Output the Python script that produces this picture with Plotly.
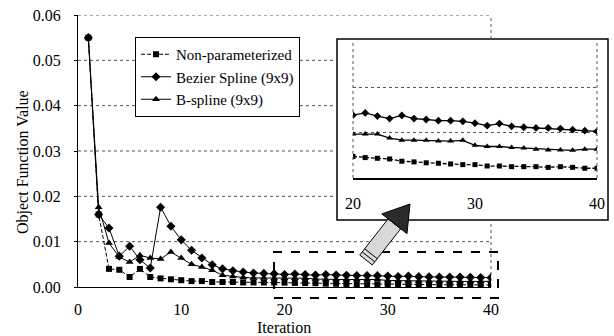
import numpy as np
import plotly.graph_objects as go

# ---------------- data ----------------
iterations = list(range(1, 41))
non_param = [0.055, 0.0160, 0.0040, 0.0038, 0.0022, 0.0040, 0.0022, 0.0019, 0.0017, 0.0015,
             0.0013, 0.0013, 0.0011, 0.0011, 0.0011, 0.0010, 0.0010, 0.0010, 0.0010, 0.00095,
             0.00090, 0.00087, 0.00084, 0.00074, 0.00071, 0.00067, 0.00065, 0.00062, 0.00059, 0.00059,
             0.00053, 0.00053, 0.00050, 0.00050, 0.00050, 0.00047, 0.00050, 0.00047, 0.00043, 0.00043]
bezier = [0.055, 0.0160, 0.0130, 0.0068, 0.0090, 0.0060, 0.0042, 0.0176, 0.0134, 0.0104,
          0.0081, 0.0064, 0.0049, 0.0040, 0.0036, 0.0033, 0.0031, 0.0030, 0.0029, 0.00277,
          0.00287, 0.00273, 0.00262, 0.00276, 0.00262, 0.00258, 0.00253, 0.00253, 0.00250, 0.00242,
          0.00231, 0.00240, 0.00228, 0.00224, 0.00221, 0.00221, 0.00218, 0.00213, 0.00209, 0.00206]
bspline = [0.055, 0.0176, 0.0097, 0.0066, 0.0055, 0.0070, 0.0064, 0.0062, 0.0077, 0.0064,
           0.0050, 0.0044, 0.0037, 0.0026, 0.0023, 0.0021, 0.0020, 0.0020, 0.0019, 0.00194,
           0.00194, 0.00194, 0.00176, 0.00167, 0.00167, 0.00166, 0.00163, 0.00163, 0.00166, 0.00144,
           0.00139, 0.00139, 0.00135, 0.00132, 0.00127, 0.00124, 0.00124, 0.00122, 0.00127, 0.00127]
series_names = ["Non-parameterized", "Bezier Spline (9x9)", "B-spline (9x9)"]
x_ticks = [0, 10, 20, 30, 40]
y_ticks = [0.00, 0.01, 0.02, 0.03, 0.04, 0.05, 0.06]
inset_x_ticks = [20, 30, 40]
inset_grid = [0.002, 0.004, 0.006]

# ---------------- layout geometry (pixels) ----------------
W, H = 614, 336
L, R, T, B = 78, 610, 15, 287
MAIN_RIGHT = 491
INSET_BOX = (337, 39, 608, 220)     # x0, y0, x1, y1
INSET_PLOT = (353, 42, 597, 178)

def px(x):
    return (x - L) / (R - L)

def py(y):
    return (B - y) / (B - T)

FONT = "Liberation Serif"
markers = ["square", "diamond", "triangle-up"]
dashes = ["4px,2px", "solid", "solid"]
sizes = [6, 7, 7]
data_series = [non_param, bezier, bspline]

fig = go.Figure()
for name, ys, m, d, s in zip(series_names, data_series, markers, dashes, sizes):
    fig.add_trace(go.Scatter(x=iterations, y=ys, name=name, mode="lines+markers",
                             line=dict(color="black", width=1, dash=d),
                             marker=dict(symbol=m, size=s, color="black"),
                             xaxis="x", yaxis="y"))
# inset traces (iterations 20..40)
for name, ys, m, d, s in zip(series_names, data_series, markers, dashes, sizes):
    fig.add_trace(go.Scatter(x=iterations[19:], y=ys[19:], name=name, mode="lines+markers",
                             line=dict(color="black", width=1.3, dash=d),
                             marker=dict(symbol=m, size=s - 1, color="black"),
                             xaxis="x2", yaxis="y2", showlegend=False))

shapes = []
bx0, by0, bx1, by1 = INSET_BOX
shapes.append(dict(type="rect", xref="paper", yref="paper", x0=px(bx0), x1=px(bx1),
                   y0=py(by1), y1=py(by0), fillcolor="white",
                   line=dict(color="black", width=1.5), layer="below"))
for v in y_ticks[1:]:
    ypix = B - v / y_ticks[-1] * (B - T)
    xend = bx0 if (by0 <= ypix <= by1) else MAIN_RIGHT
    shapes.append(dict(type="line", xref="paper", yref="y", x0=0, x1=px(xend), y0=v, y1=v,
                       line=dict(color="#555", width=1, dash="dot"), layer="below"))
shapes.append(dict(type="line", xref="paper", yref="paper", x0=px(MAIN_RIGHT), x1=px(MAIN_RIGHT),
                   y0=0, y1=py(by1), line=dict(color="#555", width=1, dash="dot"), layer="below"))
shapes.append(dict(type="line", xref="paper", yref="paper", x0=px(MAIN_RIGHT), x1=px(MAIN_RIGHT),
                   y0=py(by0), y1=1, line=dict(color="#555", width=1, dash="dot"), layer="below"))
for xd in [0, 1]:
    shapes.append(dict(type="line", xref="x2 domain", yref="y2 domain", x0=xd, x1=xd, y0=0, y1=1,
                       line=dict(color="#555", width=1, dash="dot")))
shapes.append(dict(type="rect", xref="paper", yref="paper", x0=px(274), x1=px(498),
                   y0=py(298), y1=py(252), line=dict(color="black", width=2, dash="dash")))

# arrow polygon (pixels -> paper)
tail = np.array([366.0, 260.0])
tip = np.array([410.0, 204.0])
u = (tip - tail) / np.linalg.norm(tip - tail)
n = np.array([-u[1], u[0]])
base = tail + u * 46
def P(pt):
    return f"{px(pt[0]):.5f},{py(pt[1]):.5f}"
shaft = [tail - n * 8, base - n * 8, base + n * 8, tail + n * 8]
head = [base - n * 16, tip, base + n * 16]
shapes.append(dict(type="path", xref="paper", yref="paper",
                   path="M " + " L ".join(P(p) for p in shaft) + " Z",
                   fillcolor="#d8d8d8", line=dict(color="black", width=1)))
shapes.append(dict(type="path", xref="paper", yref="paper",
                   path="M " + " L ".join(P(p) for p in head) + " Z",
                   fillcolor="#2a2a2a", line=dict(color="black", width=1)))
for k in [4, 8]:
    a = tail + u * k
    shapes.append(dict(type="line", xref="paper", yref="paper",
                       x0=px((a - n * 8)[0]), y0=py((a - n * 8)[1]),
                       x1=px((a + n * 8)[0]), y1=py((a + n * 8)[1]),
                       line=dict(color="black", width=1)))

annotations = [
    dict(text="Object Function Value", xref="paper", yref="paper", x=px(23), y=py(162),
         xanchor="center", yanchor="middle",
         textangle=-90, showarrow=False, font=dict(family=FONT, size=16, color="black")),
    dict(text="Iteration", xref="paper", yref="paper", x=px(284), y=py(327),
         xanchor="center", yanchor="middle",
         showarrow=False, font=dict(family=FONT, size=16, color="black")),
]

fig.update_layout(
    width=W, height=H,
    margin=dict(l=L, r=W - R, t=T, b=H - B, pad=0, autoexpand=False),
    paper_bgcolor="white", plot_bgcolor="rgba(0,0,0,0)",
    font=dict(family=FONT, size=16, color="black"),
    showlegend=True,
    legend=dict(x=px(135), y=py(37), xanchor="left", yanchor="top",
                bgcolor="white", bordercolor="black", borderwidth=1,
                font=dict(family=FONT, size=15, color="black"),
                tracegroupgap=0, itemwidth=30),
    xaxis=dict(domain=[0, px(MAIN_RIGHT)], range=[0, 40], tickvals=x_ticks,
               showgrid=False, zeroline=False, showline=True, linecolor="black", linewidth=1,
               ticks="", ticklabelstandoff=8, anchor="y", automargin=False),
    yaxis=dict(domain=[0, 1], range=[0, 0.06], tickvals=y_ticks, tickformat=".2f",
               showgrid=False, zeroline=False, showline=True, linecolor="black", linewidth=1,
               ticks="outside", ticklen=3, tickcolor="black", ticklabelstandoff=10, anchor="x",
               automargin=False),
    xaxis2=dict(domain=[px(INSET_PLOT[0]), px(INSET_PLOT[2])], range=[20, 40],
                tickvals=inset_x_ticks, showgrid=False, zeroline=False, showline=True,
                linecolor="black", linewidth=1.5, ticks="", ticklabelstandoff=10, anchor="y2",
                automargin=False),
    yaxis2=dict(domain=[py(INSET_PLOT[3]), py(INSET_PLOT[1])], range=[0, 0.006],
                tickvals=inset_grid, showticklabels=False, showgrid=True, griddash="dot",
                gridcolor="#555", gridwidth=1, zeroline=False, showline=False, anchor="x2",
                automargin=False),
    shapes=shapes, annotations=annotations,
)

fig.write_html("out.html", config={"displayModeBar": False},
               post_script="document.body.style.margin='0px';document.body.style.overflow='hidden';")
